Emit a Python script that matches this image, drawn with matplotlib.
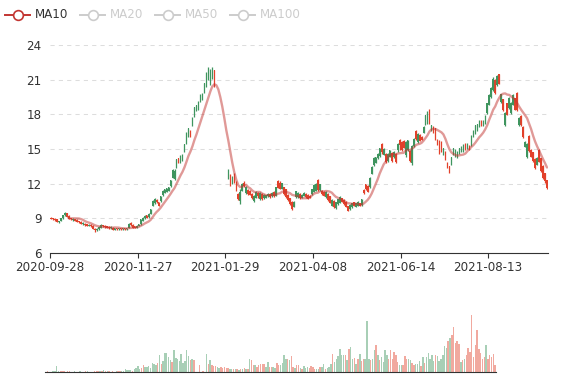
import numpy as np
import pandas as pd
import matplotlib
matplotlib.use('Agg')
import matplotlib.pyplot as plt
from matplotlib.lines import Line2D

# daily candles, 250 trading days (open / close / low / high)
open_ = [9.05, 9.0, 8.95, 8.9, 8.65, 8.8, 9.0, 9.25, 9.45, 9.2,
         9.0, 8.85, 8.9, 8.85, 8.75, 8.7, 8.5, 8.55, 8.5, 8.35,
         8.45, 8.35, 8.1, 7.95, 8.05, 8.2, 8.4, 8.35, 8.3, 8.25,
         8.15, 8.2, 8.0, 8.15, 8.05, 8.15, 8.05, 8.15, 8.05, 8.2,
         8.6, 8.45, 8.3, 8.2, 8.35, 8.5, 8.8, 9.0, 9.25, 9.1,
         9.4, 10.1, 10.3, 10.6, 10.4, 10.5, 11.0, 11.2, 11.3, 11.4,
         11.8, 12.5, 12.4, 13.4, 14.2, 13.8, 14.0, 14.8, 15.5, 16.1,
         16.6, 17.0, 17.8, 18.3, 18.4, 19.1, 19.3, 19.9, 20.4, 21.0,
         20.6, 21.1, 21.8, 18.0, 15.5, 13.0, 11.5, 11.0, 11.0, 12.5,
         12.7, 12.1, 12.8, 12.1, 11.1, 10.5, 11.4, 12.1, 11.2, 11.45,
         11.4, 11.1, 10.5, 10.8, 11.2, 10.7, 11.1, 10.75, 10.8, 10.9,
         11.1, 10.9, 11.3, 10.95, 12.25, 12.1, 11.55, 11.7, 11.5, 11.05,
         10.75, 10.45, 10.0, 10.85, 10.85, 11.1, 10.8, 10.95, 11.1, 11.05,
         10.95, 11.1, 11.3, 11.4, 12.3, 11.45, 11.4, 11.3, 10.85, 11.1,
         10.9, 10.1, 10.5, 9.9, 10.2, 10.35, 10.75, 10.6, 10.45, 10.05,
         9.8, 9.95, 10.4, 10.0, 10.1, 10.3, 10.15, 11.45, 11.95, 11.8,
         11.7, 12.85, 13.6, 13.8, 14.2, 14.4, 15.45, 14.5, 14.6, 13.95,
         14.35, 14.65, 14.3, 14.6, 14.95, 15.8, 15.6, 15.7, 14.5, 14.9,
         14.85, 13.8, 15.25, 16.6, 15.6, 16.25, 16.05, 16.4, 17.15, 17.3,
         18.4, 16.65, 16.9, 16.8, 15.8, 15.7, 15.6, 14.55, 14.75, 13.8,
         13.5, 13.65, 14.55, 14.4, 14.25, 14.6, 14.8, 14.8, 15.45, 15.05,
         15.3, 15.35, 16.05, 16.35, 16.65, 16.95, 17.45, 17.05, 17.2, 18.1,
         18.85, 19.5, 20.1, 21.0, 20.5, 21.45, 19.05, 19.3, 17.05, 18.95,
         18.55, 18.1, 18.85, 19.4, 19.85, 17.05, 17.85, 16.9, 15.2, 14.3,
         16.15, 14.95, 14.7, 14.15, 13.65, 14.95, 14.2, 13.55, 12.9, 12.3]

close = [8.95, 8.9, 8.85, 8.7, 8.75, 9.0, 9.25, 9.5, 9.15, 8.95,
         8.9, 8.95, 8.8, 8.7, 8.65, 8.55, 8.6, 8.4, 8.35, 8.45,
         8.3, 8.1, 7.95, 8.1, 8.25, 8.45, 8.3, 8.25, 8.2, 8.15,
         8.25, 8.0, 8.15, 8.05, 8.15, 8.05, 8.15, 8.05, 8.15, 8.55,
         8.4, 8.2, 8.2, 8.35, 8.5, 8.9, 9.05, 9.2, 9.05, 9.4,
         9.8, 10.5, 10.7, 10.4, 10.1, 10.9, 11.4, 11.5, 11.6, 11.7,
         12.3, 13.2, 13.1, 14.1, 13.8, 14.4, 14.5, 15.4, 16.4, 16.8,
         16.1, 17.7, 18.6, 18.8, 19.1, 19.7, 19.8, 20.7, 21.6, 22.0,
         21.85, 22.05, 20.4, 18.0, 15.5, 13.0, 11.5, 11.0, 11.0, 13.2,
         12.0, 12.6, 12.2, 11.5, 10.7, 11.3, 12.0, 11.8, 11.7, 11.1,
         11.05, 10.8, 10.9, 11.3, 10.9, 11.2, 10.7, 11.05, 11.0, 11.1,
         10.85, 11.2, 10.9, 11.7, 11.65, 11.55, 12.05, 11.1, 10.85, 10.55,
         10.2, 9.8, 10.45, 11.35, 11.2, 10.75, 11.05, 11.2, 10.85, 10.7,
         10.8, 11.5, 11.9, 12.0, 11.45, 11.95, 11.1, 10.95, 11.3, 10.55,
         10.35, 10.6, 9.95, 10.4, 10.65, 10.85, 10.45, 10.2, 10.0, 9.65,
         10.15, 10.3, 10.1, 10.3, 10.45, 10.1, 10.65, 11.15, 11.5, 11.3,
         12.5, 13.45, 14.25, 14.3, 14.6, 15.05, 14.7, 15.0, 13.85, 14.6,
         14.9, 13.95, 14.75, 13.85, 15.4, 15.35, 14.9, 15.1, 15.6, 15.75,
         14.0, 15.3, 15.9, 15.85, 16.3, 15.7, 15.8, 16.9, 17.9, 18.2,
         17.3, 17.05, 16.4, 15.8, 15.4, 14.7, 14.8, 15.05, 14.1, 13.4,
         13.1, 14.3, 15.05, 14.95, 14.75, 15.05, 15.2, 15.3, 14.95, 15.4,
         14.95, 16.15, 16.6, 17.05, 17.15, 17.45, 17.05, 17.45, 17.85, 18.95,
         19.7, 20.3, 21.1, 19.85, 21.35, 20.65, 19.75, 18.35, 18.1, 17.95,
         19.45, 19.0, 19.7, 18.4, 18.35, 17.7, 17.05, 16.0, 15.6, 15.4,
         14.8, 14.35, 13.95, 13.35, 14.25, 13.9, 13.1, 12.5, 12.2, 11.6]

low = [8.9, 8.85, 8.8, 8.65, 8.6, 8.75, 8.95, 9.2, 9.1, 8.9,
       8.85, 8.8, 8.75, 8.65, 8.6, 8.5, 8.45, 8.35, 8.3, 8.3,
       8.25, 8.05, 7.85, 7.9, 8.0, 8.15, 8.25, 8.2, 8.15, 8.1,
       8.1, 7.95, 7.95, 8.0, 8.0, 8.0, 8.0, 8.0, 8.0, 8.15,
       8.35, 8.15, 8.15, 8.15, 8.3, 8.45, 8.75, 8.95, 9.0, 9.05,
       9.35, 10.05, 10.25, 10.35, 10.05, 10.45, 10.95, 11.15, 11.25, 11.35,
       11.75, 12.45, 12.3, 13.35, 13.75, 13.75, 13.95, 14.75, 15.45, 16.05,
       16.05, 16.95, 17.75, 18.25, 18.35, 19.05, 19.25, 19.85, 20.35, 20.95,
       20.55, 21.05, 20.35, 18.0, 15.5, 13.0, 11.5, 11.0, 11.0, 12.4,
       11.8, 12.0, 12.1, 11.4, 10.6, 10.2, 11.35, 11.7, 11.1, 11.0,
       11.0, 10.7, 10.4, 10.75, 10.8, 10.55, 10.6, 10.7, 10.75, 10.85,
       10.8, 10.85, 10.85, 10.9, 11.6, 11.5, 11.5, 11.05, 10.8, 10.5,
       10.15, 9.7, 9.95, 10.8, 10.8, 10.7, 10.75, 10.9, 10.8, 10.65,
       10.75, 11.05, 11.25, 11.35, 11.4, 11.4, 11.05, 10.9, 10.8, 10.5,
       10.3, 10.05, 9.9, 9.85, 10.15, 10.3, 10.4, 10.15, 9.95, 9.6,
       9.75, 9.9, 10.05, 9.95, 10.05, 10.05, 10.1, 11.1, 11.45, 11.25,
       11.65, 12.8, 13.55, 13.75, 14.15, 14.35, 14.6, 14.45, 13.8, 13.9,
       14.3, 13.9, 14.25, 13.8, 14.7, 14.9, 14.85, 15.05, 14.35, 14.85,
       13.9, 13.6, 15.2, 15.8, 15.5, 15.65, 15.75, 16.35, 17.1, 17.2,
       17.2, 16.6, 16.35, 15.75, 15.35, 14.6, 14.75, 14.5, 14.05, 13.35,
       12.9, 13.6, 14.5, 14.35, 14.2, 14.55, 14.75, 14.75, 14.9, 15.0,
       14.9, 15.3, 16.0, 16.3, 16.6, 16.9, 17.0, 17.0, 17.15, 18.0,
       18.8, 19.45, 20.05, 19.8, 20.45, 20.6, 19.0, 18.3, 17.0, 17.9,
       18.5, 18.05, 18.8, 18.35, 18.3, 17.0, 17.0, 15.95, 15.15, 14.2,
       14.7, 14.3, 13.9, 13.3, 13.6, 13.85, 13.0, 12.4, 12.1, 11.55]

high = [9.1, 9.05, 9.0, 8.95, 8.8, 9.05, 9.3, 9.55, 9.5, 9.25,
        9.05, 9.0, 8.95, 8.9, 8.8, 8.75, 8.65, 8.6, 8.55, 8.5,
        8.5, 8.4, 8.15, 8.15, 8.3, 8.5, 8.45, 8.4, 8.35, 8.3,
        8.3, 8.25, 8.2, 8.2, 8.2, 8.2, 8.2, 8.2, 8.2, 8.6,
        8.65, 8.5, 8.35, 8.4, 8.55, 8.95, 9.1, 9.25, 9.3, 9.45,
        9.85, 10.55, 10.75, 10.65, 10.45, 10.95, 11.45, 11.55, 11.65, 11.75,
        12.35, 13.25, 13.25, 14.15, 14.25, 14.45, 14.55, 15.45, 16.45, 16.85,
        16.65, 17.75, 18.65, 18.85, 19.15, 19.75, 19.85, 20.75, 21.65, 22.1,
        21.95, 22.1, 21.85, 18.0, 15.5, 13.0, 11.5, 11.0, 11.0, 13.3,
        12.8, 12.7, 12.9, 12.2, 11.15, 11.5, 12.1, 12.2, 11.8, 11.5,
        11.45, 11.2, 11.0, 11.4, 11.3, 11.3, 11.15, 11.1, 11.05, 11.15,
        11.15, 11.25, 11.35, 11.75, 12.35, 12.2, 12.1, 11.75, 11.55, 11.1,
        10.8, 10.5, 10.5, 11.4, 11.3, 11.2, 11.1, 11.25, 11.15, 11.1,
        11.0, 11.55, 11.95, 12.05, 12.4, 12.0, 11.45, 11.35, 11.35, 11.15,
        10.95, 10.65, 10.55, 10.45, 10.7, 10.9, 10.8, 10.65, 10.5, 10.1,
        10.2, 10.35, 10.45, 10.35, 10.5, 10.35, 10.7, 11.5, 12.0, 11.9,
        12.55, 13.5, 14.3, 14.35, 14.65, 15.1, 15.5, 15.05, 14.65, 14.65,
        14.95, 14.7, 14.8, 14.65, 15.5, 15.85, 15.65, 15.75, 15.7, 15.8,
        14.9, 15.35, 15.95, 16.65, 16.35, 16.3, 16.1, 16.95, 17.95, 18.3,
        18.5, 17.1, 16.95, 16.85, 15.85, 15.75, 15.65, 15.1, 14.8, 13.85,
        13.55, 14.35, 15.1, 15.0, 14.8, 15.1, 15.25, 15.4, 15.5, 15.5,
        15.35, 16.2, 16.65, 17.1, 17.2, 17.5, 17.5, 17.5, 17.9, 19.0,
        19.75, 20.35, 21.2, 21.1, 21.4, 21.5, 19.8, 19.35, 18.2, 19.0,
        19.5, 19.05, 19.8, 19.45, 19.95, 17.75, 17.9, 16.95, 15.65, 15.5,
        16.2, 15.0, 14.75, 14.2, 14.3, 15.0, 14.25, 13.6, 12.95, 12.35]

volume = [1, 2, 1, 1, 2, 4, 18, 4, 2, 3,
          2, 1, 3, 2, 1, 1, 2, 1, 1, 2,
          1, 1, 2, 3, 1, 1, 1, 2, 3, 2,
          2, 2, 5, 2, 3, 2, 1, 2, 1, 3,
          2, 2, 2, 3, 8, 7, 5, 6, 3, 10,
          11, 17, 10, 12, 20, 16, 15, 18, 12, 28,
          25, 22, 28, 50, 25, 33, 57, 57, 46, 36,
          30, 66, 42, 38, 33, 55, 28, 34, 66, 48,
          37, 40, 36, 1, 1, 20, 1, 3, 1, 55,
          25, 35, 20, 18, 18, 15, 12, 15, 13, 15,
          11, 12, 10, 10, 9, 8, 10, 5, 8, 10,
          11, 8, 10, 38, 35, 22, 20, 15, 20, 23,
          24, 25, 15, 30, 15, 14, 15, 12, 26, 22,
          20, 27, 50, 38, 40, 36, 48, 14, 12, 20,
          22, 12, 8, 18, 12, 14, 12, 18, 16, 10,
          10, 10, 16, 14, 25, 10, 12, 16, 25, 54,
          30, 38, 48, 68, 52, 52, 50, 35, 70, 76,
          40, 42, 25, 38, 55, 33, 40, 40, 153, 40,
          35, 40, 65, 82, 52, 36, 46, 30, 65, 50,
          40, 66, 38, 60, 52, 30, 20, 20, 20, 48,
          38, 38, 35, 26, 20, 24, 24, 33, 18, 45,
          28, 45, 58, 38, 52, 32, 52, 48, 34, 40,
          50, 78, 72, 92, 102, 110, 135, 88, 94, 84,
          30, 35, 40, 52, 72, 60, 171, 45, 82, 126,
          70, 58, 40, 46, 80, 38, 50, 45, 55, 22]

tick_labels = ['2020-09-28', '2020-11-27', '2021-01-29', '2021-04-08', '2021-06-14', '2021-08-13']
tick_step = 44
legend_names = ['MA10', 'MA20', 'MA50', 'MA100']

GREEN = '#3f955f'
RED = '#e2412b'
MA_COLOR = '#c23531'
AXIS = '#333333'

W, H = 577, 380
fig = plt.figure(figsize=(W / 100, H / 100), dpi=100)


def px_axes(left, top, right, bottom):
    return fig.add_axes([left / W, 1 - bottom / H, (right - left) / W, (bottom - top) / H])


ax = px_axes(50, 45, 548, 253)
axv = px_axes(45, 310, 496, 372)

o, c, lo, hi, v = map(np.array, (open_, close, low, high, volume))
n = len(c)
x = np.arange(n)
col = np.where(c >= o, GREEN, RED)

# candles (flat limit-down days have no visible mark)
moving = hi > lo
ax.vlines(x[moving], lo[moving], hi[moving], colors=col[moving], lw=0.9)
ax.bar(x, np.abs(c - o), bottom=np.minimum(o, c), width=0.75, color=col, linewidth=0)

ma10 = pd.Series(c).rolling(10).mean()
ax.plot(x, ma10, color=MA_COLOR, alpha=0.5, lw=1.7, solid_capstyle='round')

ax.set_xlim(-0.5, n - 0.5)
ax.set_ylim(6, 24)
ax.set_yticks(np.arange(6, 25, 3))
ax.grid(axis='y', color='#dddddd', ls=(0, (4, 4)), lw=0.75)
ax.set_axisbelow(True)
for s in ['top', 'right', 'left']:
    ax.spines[s].set_visible(False)
ax.spines['bottom'].set_color(AXIS)
ax.tick_params(axis='y', length=0, pad=6, labelcolor=AXIS, labelsize=8.6)
ax.set_xticks(np.arange(len(tick_labels)) * tick_step - 0.5)
ax.set_xticklabels(tick_labels)
ax.tick_params(axis='x', length=3.6, color=AXIS, labelcolor=AXIS, labelsize=8.6, pad=2)

# volume, coloured by change against previous close
prev = np.concatenate([[o[0]], c[:-1]])
vcol = np.where(c >= prev, GREEN, RED)
axv.bar(x, v, width=0.8, color=vcol, alpha=0.45, linewidth=0)
axv.set_xlim(-0.5, n - 0.5)
axv.set_ylim(0, 186)
for s in ['top', 'right', 'left']:
    axv.spines[s].set_visible(False)
axv.spines['bottom'].set_color(AXIS)
axv.set_xticks([])
axv.set_yticks([])

# legend (only MA10 active)
lx = [5, 80, 155, 230]
for i, name in enumerate(legend_names):
    cc = MA_COLOR if i == 0 else '#cccccc'
    tc = '#333333' if i == 0 else '#cccccc'
    y = 1 - 15 / H
    fig.add_artist(Line2D([lx[i] / W, (lx[i] + 25) / W], [y, y], color=cc, lw=1.4))
    fig.add_artist(Line2D([(lx[i] + 12.5) / W], [y], marker='o', ms=7, mfc='white',
                          mec=cc, mew=1.2, color=cc))
    fig.text((lx[i] + 30) / W, y, name, color=tc, fontsize=8.6, va='center', ha='left')

fig.savefig('out.png', dpi=100)
